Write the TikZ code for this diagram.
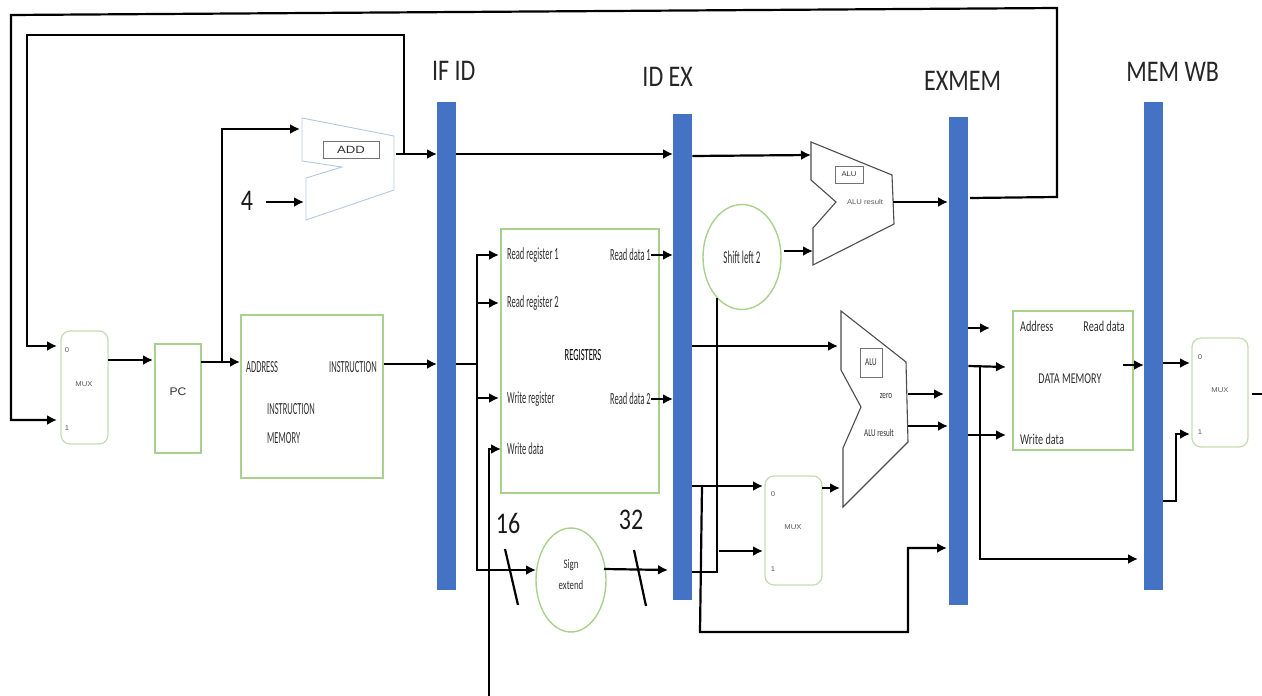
\documentclass[tikz,border=0pt]{standalone}
\usepackage{fontspec}
\setmainfont{Carlito}
\newfontfamily\nar[FakeStretch=0.68]{Carlito}
\newfontfamily\nrr[FakeStretch=0.5]{Carlito}
\newfontfamily\hed[FakeStretch=0.8]{Carlito}
\newfontfamily\wid[FakeStretch=1.25]{Liberation Sans}
\newfontfamily\ws[FakeStretch=1.1]{Liberation Sans}
\usetikzlibrary{shapes,arrows,arrows.meta,positioning}
\definecolor{barblue}{HTML}{4472C4}
\definecolor{palegreen}{HTML}{C5DDB4}
\definecolor{midgreen}{HTML}{A9D18E}
\definecolor{addblue}{HTML}{B4C7E7}
\definecolor{labgray}{HTML}{303030}
\tikzstyle{bar}=[rectangle,fill=barblue,minimum width=19pt,inner sep=0pt]
\tikzstyle{head}=[font=\fontsize{30}{32}\selectfont\hed,text=black!85,inner sep=0pt]
\tikzstyle{big}=[font=\fontsize{30}{32}\selectfont\hed,text=black!90,inner sep=0pt]
\tikzstyle{lab}=[font=\fontsize{17}{20}\selectfont\nrr,text=labgray,inner sep=0pt]
\tikzstyle{mem}=[font=\fontsize{15}{18}\selectfont\nar,text=labgray,inner sep=0pt]
\tikzstyle{small}=[font=\fontsize{10.5}{12}\selectfont\nar,text=labgray,inner sep=0pt]
\tikzstyle{tiny}=[font=\fontsize{7}{8}\selectfont\ws,text=labgray!80,inner sep=0pt]
\tikzstyle{mux}=[rectangle,draw=palegreen,line width=1.3pt,rounded corners=9pt,anchor=north west,inner sep=0pt,outer sep=0pt]
\tikzstyle{regbox}=[rectangle,draw=midgreen,line width=1.8pt,anchor=north west,inner sep=0pt,outer sep=0pt]
\tikzstyle{oval}=[ellipse,draw=midgreen,line width=1.4pt,inner sep=0pt]
\tikzstyle{alu}=[draw=black!70,line width=1.1pt,line join=miter]
\tikzstyle{arr}=[-{Latex[length=10pt,width=10pt]},line width=2.2pt]
\tikzstyle{wire}=[line width=2.2pt]
\begin{document}
\begin{tikzpicture}[x=1pt,y=-1pt]
\useasboundingbox (0,0) rectangle (1262,696);
% pipeline registers
\node (ifid) [bar, anchor=north west, minimum height=488pt] at (437,102) {};
\node (idex) [bar, anchor=north west, minimum height=486pt] at (673,114) {};
\node (exmem) [bar, anchor=north west, minimum height=488pt] at (949,117) {};
\node (memwb) [bar, anchor=north west, minimum height=488pt] at (1144,102) {};
\node [head, above=21pt of ifid, xshift=7pt] {IF ID};
\node [head, above=27pt of idex, xshift=-15pt] {ID EX};
\node [head, above=26pt of exmem, xshift=4pt] {EXMEM};
\node [head, above=20pt of memwb, xshift=19pt] {MEM WB};
% fetch
\node (mux1) [mux, minimum width=47pt, minimum height=113pt] at (61,331) {};
\node [tiny] at (67,350) {0};
\node [tiny] at (84,384) {MUX};
\node [tiny] at (67,428) {1};
\node (pc) [regbox, minimum width=46pt, minimum height=109pt] at (155,344) {};
\node [font=\fontsize{11}{12}\selectfont\ws, text=labgray, inner sep=0pt] at (178,392) {PC};
\node (imem) [regbox, minimum width=142pt, minimum height=163pt] at (241,315) {};
\node (addr) [lab, anchor=west] at (246,367) {ADDRESS};
\node (inst) [lab, anchor=east] at (377,367) {INSTRUCTION};
\node (imem1) [lab, anchor=west] at (267,409) {INSTRUCTION};
\node (imem2) [lab, anchor=west] at (267,438) {MEMORY};
% adder
\draw [addblue, line width=0.9pt] (302,118) -- (394,136) -- (394,190) -- (306,220) -- (306,178) -- (342,167) -- (302,161) -- cycle;
\node (addbox) [rectangle, draw=black!55, line width=0.9pt, minimum width=56pt, minimum height=17pt, inner sep=0pt, font=\fontsize{10.5}{11}\selectfont\wid, text=labgray] at (351,149.5) {ADD};
\node (four) [big] at (247,201) {4};
% registers
\node (regs) [regbox, minimum width=158pt, minimum height=264pt] at (501,229) {};
\node (rr1) [lab, anchor=west] at (507,255) {Read register 1};
\node (rr2) [lab, anchor=west] at (507,303) {Read register 2};
\node (wr) [lab, anchor=west] at (507,399) {Write register};
\node (wd) [lab, anchor=west] at (507,449) {Write data};
\node (rd1) [lab, anchor=east] at (651,255) {Read data 1};
\node (rd2) [lab, anchor=east] at (651,399) {Read data 2};
\node (rname) [lab, text=black] at (583,355) {REGISTERS};
% sign extend and shift
\node (sign) [oval, minimum width=70pt, minimum height=104pt] at (571,580) {};
\node (signtxt) [align=center, inner sep=0pt, text=labgray, font=\fontsize{13}{21}\selectfont\nar] at (571,575) {Sign\\extend};
\node (shift) [oval, minimum width=78pt, minimum height=105pt, font=\fontsize{18}{20}\selectfont\nrr, text=labgray] at (742,257) {Shift left 2};
\node (n16) [big] at (508,523) {16};
\node (n32) [big] at (631,520) {32};
\coordinate (s1a) at (505,549);
\coordinate (s1b) at (518,605);
\coordinate (s2a) at (634,550);
\coordinate (s2b) at (646,606);
\draw [wire] (s1a) -- (s1b);
\draw [wire] (s2a) -- (s2b);
% branch ALU
\draw [alu] (811,142) -- (892,175) -- (894,224) -- (813,265) -- (813,228) -- (836,202) -- (811,180) -- cycle;
\node (alu1) [rectangle, draw=black!55, line width=0.9pt, minimum width=28pt, minimum height=17pt, inner sep=0pt, font=\fontsize{7}{8}\selectfont\ws, text=labgray] at (849,174.5) {ALU};
\node (res1) [tiny] at (865,202) {ALU result};
% main ALU
\draw [alu] (841,311) -- (906,362) -- (908,442) -- (843,507) -- (843,448) -- (861,407) -- (841,370) -- cycle;
\node (alu2) [rectangle, draw=black!55, line width=0.9pt, minimum width=22pt, minimum height=29pt, inner sep=0pt, small] at (871,362.5) {ALU};
\node (zero) [small] at (886,396) {zero};
\node (res2) [small] at (879,433) {ALU result};
\node (mux2) [mux, minimum width=57pt, minimum height=109pt] at (765,476) {};
\node [tiny] at (773,494) {0};
\node [tiny] at (793,527) {MUX};
\node [tiny] at (773,569) {1};
% memory
\node (dmem) [regbox, line width=1.5pt, minimum width=120pt, minimum height=139pt] at (1013,311) {};
\node (daddr) [mem, anchor=west] at (1020,326) {Address};
\node (dread) [mem, anchor=east] at (1125,326) {Read data};
\node (dname) [mem] at (1070,379) {DATA MEMORY};
\node (dwrite) [mem, anchor=west] at (1020,439) {Write data};
\node (mux3) [mux, minimum width=56pt, minimum height=109pt] at (1192,338) {};
\node [tiny] at (1200,357) {0};
\node [tiny] at (1220,390) {MUX};
\node [tiny] at (1200,432) {1};
% free ends
\coordinate (top) at (1057,197);
\coordinate (bus) at (477,364);
\coordinate (drop) at (717,572);
\coordinate (down) at (702,486);
\coordinate (tap) at (980,366);
% feedback wires
\draw [arr] (970,198) -- (top) -- (1057,8) -- (11,15) -- (11,420) -- (57,420);
\draw [arr] (404,154) -- (404,35) -- (27,35) -- (27,346) -- (57,346);
\draw [arr] (222,361) -- (222,129) -- (300,129);
% fetch wires
\draw [arr] (mux1.east |- 0,360) -- (153,360);
\draw [arr] (pc.east |- 0,362) -- (240,362);
\draw [arr] (four.east) ++(13,1) -- (304,202);
\draw [arr] (396,154) -- (ifid.west |- 0,154);
\draw [arr] (ifid.east |- 0,154) -- (idex.west |- 0,154);
\draw [arr] (idex.east |- 0,156) -- (811,155);
\draw [arr] (384,364) -- (ifid.west |- bus);
% decode wires
\draw [wire] (ifid.east |- bus) -- (bus);
\draw [wire] (477,254) -- (477,570);
\draw [arr] (477,255) -- (499,255);
\draw [arr] (477,303) -- (499,303);
\draw [arr] (477,398) -- (499,398);
\draw [arr] (489,696) -- (489,449) -- (501,449);
\draw [arr] (476,570) -- (536,570);
\draw [arr] (rd1.east) -- (idex.west |- rd1);
\draw [arr] (rd2.east) -- (idex.west |- rd2);
\draw [arr] (604,569) -- (668,570);
% execute wires
\draw [wire] (idex.east |- drop) -- (drop) -- (717,298);
\draw [arr] (784,251) -- (813,251);
\draw [arr] (idex.east |- 0,346) -- (838,346);
\draw [arr] (idex.east |- down) -- (763,486);
\draw [arr] (719,551) -- (763,551);
\draw [arr] (down) -- (700,632) -- (908,632) -- (908,548) -- (947,548);
\draw [arr] (mux2.east |- 0,488) -- (840,488);
\draw [arr] (893,202) -- (948,202);
\draw [arr] (908,394) -- (944,394);
\draw [arr] (908,426) -- (948,426);
% memory wires
\draw [arr] (exmem.east |- 0,328) -- (990,328);
\draw [arr] (exmem.east |- tap) -- (1006,367);
\draw [arr] (exmem.east |- 0,435) -- (1006,435);
\draw [arr] (tap) -- (980,559) -- (1138,559);
\draw [arr] (1123,365) -- (memwb.west |- 0,365);
\draw [arr] (memwb.east |- 0,363) -- (1190,363);
\draw [arr] (memwb.east |- 0,501) -- (1176,501) -- (1176,434) -- (1190,434);
\draw [wire] (1252,394) -- (1262,394);
\end{tikzpicture}
\end{document}
